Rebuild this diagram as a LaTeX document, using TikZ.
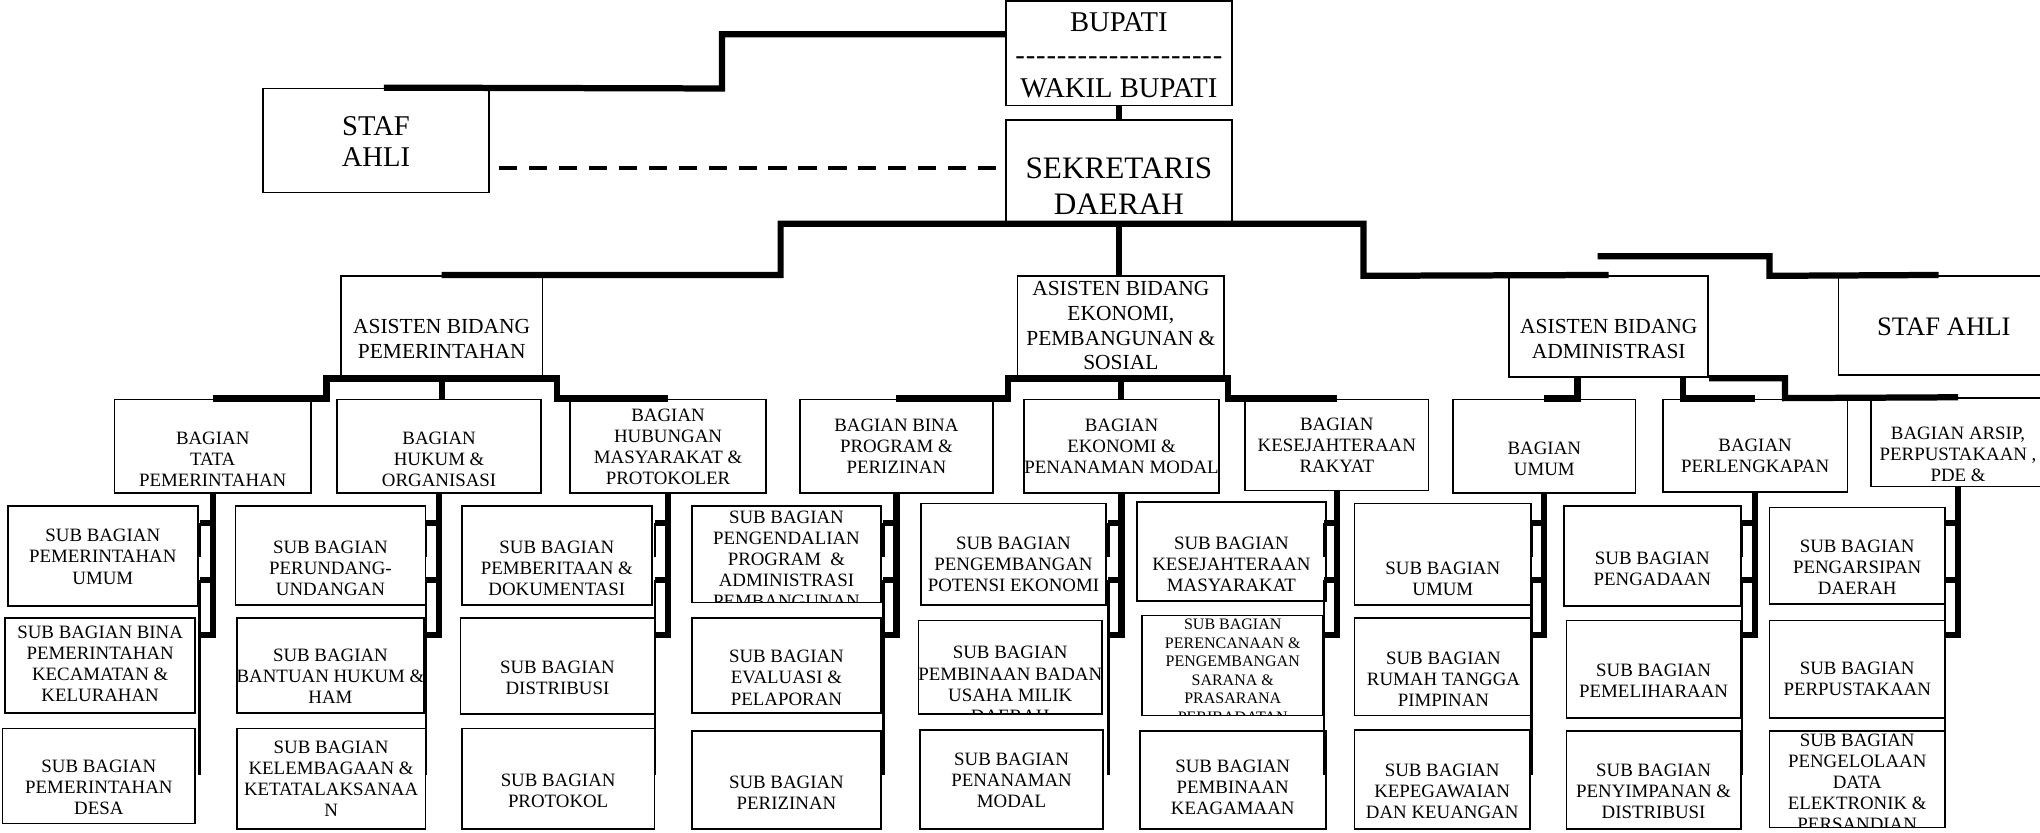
\documentclass[tikz,border=0pt]{standalone}
\usepackage{fontspec}
\setmainfont{Liberation Serif}[Ligatures=TeXOff]
\usetikzlibrary{calc,fit}

% box with its label: [label style]{name}{x1}{y1}{x2}{y2}{label centre y}{label}
\newcommand\orgbox[8][]{%
  \node[box, fit={(#3,#4) (#5,#6)}] (#2) {};
  \node[txt,#1] (#2-t) at ({(#3+#5)/2},#7) {#8};
}
% same, but the label is cut off by the frame
\newcommand\orgboxclip[8][]{%
  \node[box, fit={(#3,#4) (#5,#6)}] (#2) {};
  \begin{scope}
    \clip (#3,#4) rectangle (#5,#6);
    \node[txt,#1] (#2-t) at ({(#3+#5)/2},#7) {#8};
  \end{scope}
}
% rail under a section head, feeding its three sub-sections
\newcommand\subtree[1]{%
  \draw[conn] (#1.south) -- (#1.south |- rowC) -- ++(-10,0);
  \draw[conn] (#1.south |- rowA) -- ++(-10,0);
  \draw[conn] (#1.south |- rowB) -- ++(-10,0);
  \draw[rail] ($(#1.south |- rowA)+(-10,0)$) -- ($(#1.south |- rowAb)+(-10,0)$);
  \draw[rail] ($(#1.south |- rowB)+(-10,0)$) -- ($(#1.south |- rowD)+(-10,0)$);
}

\begin{document}
\begin{tikzpicture}[x=1pt,y=-1pt,
  box/.style={draw, line width=1.3pt, inner sep=0pt},
  conn/.style={line width=4.8pt},
  rail/.style={line width=2pt},
  dashlink/.style={line width=3pt, dash pattern=on 14pt off 9pt},
  txt/.style={align=center, inner sep=0pt, font=\fontsize{14.5}{16.2}\selectfont},
  txtA/.style={font=\fontsize{16.5}{19}\selectfont},
  txtB/.style={font=\fontsize{22}{25.5}\selectfont},
  txtK/.style={font=\fontsize{24}{28}\selectfont},
  txtF/.style={font=\fontsize{22}{24}\selectfont},
  txtR/.style={font=\fontsize{20.5}{24}\selectfont},
  txtP/.style={font=\fontsize{12.3}{14.2}\selectfont},
]
\clip (0,0) rectangle (1568,640);
\fill[white] (0,0) rectangle (1568,640);

% rows of the sub-section rails
\coordinate (rowA)  at (0,402);
\coordinate (rowAb) at (0,428);
\coordinate (rowB)  at (0,446);
\coordinate (rowC)  at (0,488);
\coordinate (rowD)  at (0,596);

% ---- top ----
\orgbox[txtB]{bupati}{773}{1}{947}{81}{42.5}{BUPATI\\{\addfontfeature{LetterSpace=3}--------------------}\\WAKIL BUPATI}
\orgbox[txtK]{sekda}{773}{92}{947}{172}{143}{SEKRETARIS\\DAERAH}
\orgbox[txtF]{stafL}{202}{68}{376}{148}{109}{STAF\\AHLI}
\orgbox[txtR]{stafR}{1413}{212}{1575}{288}{251}{STAF AHLI}

% ---- assistants ----
\orgbox[txtA]{asPem}{262}{212}{417}{290}{260.5}{ASISTEN BIDANG\\PEMERINTAHAN}
\orgbox[txtA]{asEko}{782}{212}{941}{290}{250.5}{ASISTEN BIDANG\\EKONOMI,\\PEMBANGUNAN \&\\SOSIAL}
\orgbox[txtA]{asAdm}{1160}{212}{1313}{290}{260.5}{ASISTEN BIDANG\\ADMINISTRASI}

% ---- sections ----
\orgbox{bgTata}{88}{307}{239}{379}{353}{BAGIAN\\TATA\\PEMERINTAHAN}
\orgbox{bgHukum}{259}{307}{416}{379}{353}{BAGIAN\\HUKUM \&\\ORGANISASI}
\orgbox{bgHumas}{438}{307}{589}{379}{343.5}{BAGIAN\\HUBUNGAN\\MASYARAKAT \&\\PROTOKOLER}
\orgbox{bgBina}{615}{307}{763}{379}{343}{BAGIAN BINA\\PROGRAM \&\\PERIZINAN}
\orgbox{bgEko}{787}{307}{937}{379}{343}{BAGIAN\\EKONOMI \&\\PENANAMAN MODAL}
\orgbox{bgKesra}{957}{307}{1098}{377}{342}{BAGIAN\\KESEJAHTERAAN\\RAKYAT}
\orgbox{bgUmum}{1117}{307}{1257}{379}{352.5}{BAGIAN\\UMUM}
\orgbox{bgLengkap}{1278}{307}{1420}{378}{350.5}{BAGIAN\\PERLENGKAPAN}
\orgbox{bgArsip}{1438}{306}{1572}{374}{349.5}{BAGIAN ARSIP,\\PERPUSTAKAAN ,\\PDE \&}

% ---- sub-sections ----
\orgbox{s11}{6}{389}{152}{466}{428}{SUB BAGIAN\\PEMERINTAHAN\\UMUM}
\orgbox{s12}{4}{475}{150}{548}{510.5}{SUB BAGIAN BINA\\PEMERINTAHAN\\KECAMATAN \&\\KELURAHAN}
\orgbox{s13}{2}{560}{150}{633}{605}{SUB BAGIAN\\PEMERINTAHAN\\DESA}

\orgbox{s21}{181}{389}{327}{465}{437}{SUB BAGIAN\\PERUNDANG-\\UNDANGAN}
\orgbox{s22}{182}{475}{326}{548}{520}{SUB BAGIAN\\BANTUAN HUKUM \&\\HAM}
\orgbox{s23}{182}{560}{327}{637}{598.5}{SUB BAGIAN\\KELEMBAGAAN \&\\KETATALAKSANAA\\N}

\orgbox{s31}{355}{389}{501}{465}{437}{SUB BAGIAN\\PEMBERITAAN \&\\DOKUMENTASI}
\orgbox{s32}{354}{475}{503}{549}{521}{SUB BAGIAN\\DISTRIBUSI}
\orgbox{s33}{355}{560}{503}{637}{608}{SUB BAGIAN\\PROTOKOL}

\orgboxclip{s41}{532}{389}{677}{463}{430}{SUB BAGIAN\\PENGENDALIAN\\PROGRAM \ \&\\ADMINISTRASI\\PEMBANGUNAN}
\orgbox{s42}{532}{475}{677}{548}{521}{SUB BAGIAN\\EVALUASI \&\\PELAPORAN}
\orgbox{s43}{532}{562}{677}{637}{609}{SUB BAGIAN\\PERIZINAN}

\orgbox{s51}{708}{387}{850}{465}{434}{SUB BAGIAN\\PENGEMBANGAN\\POTENSI EKONOMI}
\orgboxclip{s52}{706}{477}{847}{549}{526}{SUB BAGIAN\\PEMBINAAN BADAN\\USAHA MILIK\\DAERAH}
\orgbox{s53}{707}{561}{848}{637}{600}{SUB BAGIAN\\PENANAMAN\\MODAL}

\orgbox{s61}{874}{386}{1019}{462}{434}{SUB BAGIAN\\KESEJAHTERAAN\\MASYARAKAT}
\orgboxclip[txtP]{s62}{878}{473}{1017}{550}{515.5}{SUB BAGIAN\\PERENCANAAN \&\\PENGEMBANGAN\\SARANA \&\\PRASARANA\\PERIBADATAN}
\orgbox{s63}{876}{562}{1019}{637}{605}{SUB BAGIAN\\PEMBINAAN\\KEAGAMAAN}

\orgbox{s71}{1041}{387}{1177}{465}{445}{SUB BAGIAN\\UMUM}
\orgbox{s72}{1041}{475}{1178}{550}{522}{SUB BAGIAN\\RUMAH TANGGA\\PIMPINAN}
\orgbox{s73}{1041}{561}{1176}{637}{608}{SUB BAGIAN\\KEPEGAWAIAN\\DAN KEUANGAN}

\orgbox{s81}{1202}{389}{1338}{466}{437}{SUB BAGIAN\\PENGADAAN}
\orgbox{s82}{1204}{477}{1338}{552}{523}{SUB BAGIAN\\PEMELIHARAAN}
\orgbox{s83}{1204}{562}{1338}{637}{608}{SUB BAGIAN\\PENYIMPANAN \&\\DISTRIBUSI}

\orgbox{s91}{1360}{390}{1495}{464}{436}{SUB BAGIAN\\PENGARSIPAN\\DAERAH}
\orgbox{s92}{1360}{477}{1495}{552}{522}{SUB BAGIAN\\PERPUSTAKAAN}
\orgboxclip{s93}{1360}{562}{1495}{636}{601.5}{SUB BAGIAN\\PENGELOLAAN\\DATA\\ELEKTRONIK \&\\PERSANDIAN}

% ---- connectors: top ----
\draw[conn] ($(bupati.north west)+(0,26)$) -| (555,68) -- ($(stafL.north)+(6,0)$);
\draw[conn] (bupati.south) -- (sekda.north);
\draw[dashlink] ($(stafL.east)+(7,21)$) -- ($(sekda.west)+(0,-3)$);
\draw[conn] (asPem.north) -| (600,172) -| (1048,212) -- (asAdm.north);
\draw[conn] (sekda.south) -- (sekda.south |- asEko.north);
\coordinate (stafRtail) at (1228,197);
\draw[conn] (stafRtail) -| (1360,212) -- ($(stafR.north)+(-4,0)$);

% ---- connectors: assistants to sections ----
\draw[conn] (bgTata.north) -| (251,291) -- (428,291) |- (bgHumas.north);
\draw[conn] (asPem.south) -- (asPem.south |- bgHukum.north);
\draw[conn] (bgBina.north) -| (775,291) -- (944,291) |- (bgKesra.north);
\draw[conn] (asEko.south) -- (asEko.south |- bgEko.north);
\draw[conn] ($(asAdm.south)+(-24,0)$) |- (bgUmum.north);
\draw[conn] ($(asAdm.south)+(57,0)$) |- (bgLengkap.north);
\draw[conn] (asAdm.south east) -| (1372,306) -- (bgArsip.north);

% ---- connectors: sections to sub-sections ----
\subtree{bgTata}
\subtree{bgHukum}
\subtree{bgHumas}
\subtree{bgBina}
\subtree{bgEko}
\subtree{bgKesra}
\subtree{bgUmum}
\subtree{bgLengkap}
\subtree{bgArsip}
\end{tikzpicture}
\end{document}
